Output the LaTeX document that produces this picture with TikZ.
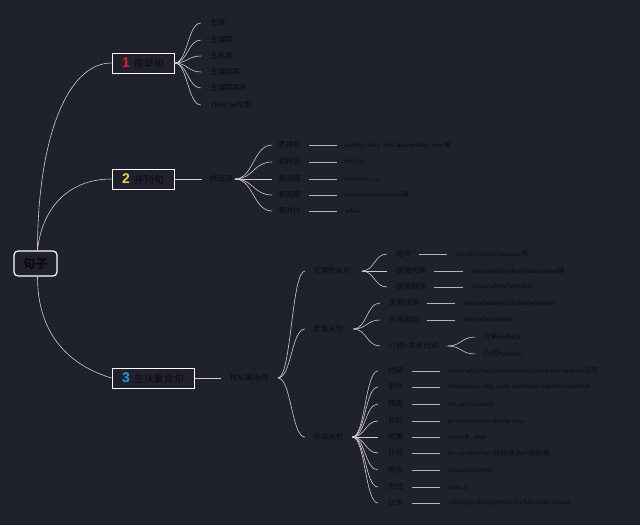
\documentclass[tikz,border=0pt]{standalone}
\usepackage{fontspec}
\setmainfont{Liberation Serif}
\newfontfamily\zh{Noto Sans CJK SC}
\newfontfamily\numf{Liberation Sans}
\usetikzlibrary{calc}
\definecolor{bg}{RGB}{31,34,44}
\definecolor{txt}{RGB}{10,11,14}
\definecolor{ln}{RGB}{205,205,208}
\definecolor{hln}{RGB}{178,181,188}
\definecolor{redone}{RGB}{228,30,55}
\definecolor{yeltwo}{RGB}{240,214,60}
\definecolor{bluthree}{RGB}{30,155,225}
\newcommand\fanline[2]{\draw[conn] let \p1=(#1), \p2=(#2) in (\p1) .. controls ({(\x1+\x2)/2},\y1) and ({(\x1+\x2)/2},\y2) .. (\p2);}
\begin{document}
\begin{tikzpicture}[x=1pt,y=-1pt,
 conn/.style={draw=ln, line width=0.6pt},
 hline/.style={draw=hln, line width=0.9pt},
 box/.style={draw=white, line width=1pt, minimum height=20pt, inner sep=0pt, text=txt, font=\zh\fontsize{10}{12}\selectfont},
 rootbox/.style={draw=white, line width=1.2pt, rounded corners=4pt, minimum width=43pt, minimum height=25pt, inner sep=0pt, text=txt, font=\zh\bfseries\fontsize{12.5}{14}\selectfont},
 zhleaf/.style={anchor=west, inner sep=0pt, text=txt, font=\zh\fontsize{7.5}{8}\selectfont},
 exleaf/.style={anchor=west, inner sep=0pt, text=txt, font=\fontsize{7}{8}\selectfont},
]
\fill[bg] (0,0) rectangle (640,525);
\useasboundingbox (0,0) rectangle (640,525);

% root and main boxes
\node[rootbox] (s) at (35.5,263.5) {句子};
\node[box, minimum width=62pt] (b1) at (143,63) {{\numf\bfseries\fontsize{14}{14}\selectfont\color{redone}1}\hspace{4pt}简单句};
\node[box, minimum width=62pt] (b2) at (143,179) {{\numf\bfseries\fontsize{14}{14}\selectfont\color{yeltwo}2}\hspace{4pt}并列句};
\node[box, minimum width=82pt] (b3) at (153,378) {{\numf\bfseries\fontsize{14}{14}\selectfont\color{bluthree}3}\hspace{4pt}主从复合句};

\draw[conn] ([xshift=2pt]s.north) .. controls +(0,-110) and +(-45,0) .. (b1.west);
\draw[conn] ([xshift=2pt]s.north) .. controls +(4,-40) and +(-45,0) .. (b2.west);
\draw[conn] ([xshift=2pt]s.south) .. controls +(0,60) and +(-40,-12) .. (b3.west);

% branch 1
\node[zhleaf] (a1) at (210,23) {主谓};
\node[zhleaf] (a2) at (210,40) {主谓宾};
\node[zhleaf] (a3) at (210,56) {主系表};
\node[zhleaf] (a4) at (210,72) {主谓双宾};
\node[zhleaf] (a5) at (210,88) {主谓宾宾补};
\node[zhleaf] (a6) at (210,105) {{\rmfamily There be}句型};
\foreach \q in {a1,a2,a3,a4,a5,a6}{\fanline{b1.east}{[xshift=-9pt]\q.west}}

% branch 2
\node[zhleaf] (c0) at (210,179) {找连词};
\draw[conn] (b2.east) -- ([xshift=-8pt]c0.west);
\node[zhleaf] (c1) at (278,145) {表并列};
\node[zhleaf] (c2) at (278,162) {表转折};
\node[zhleaf] (c3) at (278,179) {表选择};
\node[zhleaf] (c4) at (278,195) {表因果};
\node[zhleaf] (c5) at (278,211) {表对比};
\foreach \q in {c1,c2,c3,c4,c5}{\fanline{[xshift=2pt]c0.east}{[xshift=-6pt]\q.west}}
\node[exleaf] (e1) at (345,145) {and/not only...but also/neither...nor {\zh 等}};
\node[exleaf] (e2) at (345,162) {but/yet};
\node[exleaf] (e3) at (345,179) {or/either...or};
\node[exleaf] (e4) at (345,195) {for/so/thus/therefore{\zh 等}};
\node[exleaf] (e5) at (345,211) {while};
\foreach \i in {1,...,5}{\draw[hline] ([xshift=8pt]c\i.east) -- ([xshift=-8pt]e\i.west);}

% branch 3
\node[zhleaf] (d0) at (230,378) {找从属连词};
\draw[conn] (b3.east) -- ([xshift=-9pt]d0.west);
\node[zhleaf] (n1) at (313,271) {名词性从句};
\node[zhleaf] (n2) at (313,329) {定语从句};
\node[zhleaf] (n3) at (313,437) {状语从句};
\foreach \q in {n1,n2,n3}{\fanline{[xshift=10pt]d0.east}{[xshift=-8pt]\q.west}}

% noun clauses
\node[zhleaf] (m1) at (396,254) {连词};
\node[zhleaf] (m2) at (396,271) {连接代词};
\node[zhleaf] (m3) at (396,287) {连接副词};
\foreach \q in {m1,m2,m3}{\fanline{[xshift=11pt]n1.east}{[xshift=-9pt]\q.west}}
\node[exleaf] (f1) at (456,254) {that/if/whether/because{\zh 等}};
\node[exleaf] (f2) at (472,271) {what/which/who/whom/whose{\zh 等}};
\node[exleaf] (f3) at (472,287) {when/where/why/how};
\foreach \i in {1,2,3}{\draw[hline] ([xshift=8pt]m\i.east) -- ([xshift=-9pt]f\i.west);}

% attributive clauses
\node[zhleaf] (r1) at (389,303) {关系代词};
\node[zhleaf] (r2) at (389,320) {关系副词};
\node[zhleaf] (r3) at (389,346) {介词+关系代词};
\foreach \q in {r1,r2,r3}{\fanline{[xshift=10pt]n2.east}{[xshift=-9pt]\q.west}}
\node[exleaf] (g1) at (464,303) {who/whom/which/that/whose/as};
\node[exleaf] (g2) at (464,320) {why/when/where};
\foreach \i in {1,2}{\draw[hline] ([xshift=8pt]r\i.east) -- ([xshift=-9pt]g\i.west);}
\node[zhleaf] (p1) at (483,337) {介词+{\rmfamily which}};
\node[zhleaf] (p2) at (483,354) {介词+{\rmfamily whom}};
\foreach \q in {p1,p2}{\fanline{[xshift=9pt]r3.east}{[xshift=-8pt]\q.west}}

% adverbial clauses
\foreach \q/\yy/\lbl in {t1/371/时间,t2/387/条件,t3/404/原因,t4/421/目的,t5/437/结果,t6/453/比较,t7/470/地点,t8/487/方式,t9/503/让步}{
  \node[zhleaf] (\q) at (388,\yy) {\lbl};
  \fanline{[xshift=9pt]n3.east}{[xshift=-10pt]\q.west}
}
\node[exleaf] (h1) at (448,371) {when/while/as/before/after/till/since/the moment{\zh 引导}};
\node[exleaf] (h2) at (448,387) {if/unless/as long as/on condition that/provided that};
\node[exleaf] (h3) at (448,404) {because/as/since};
\node[exleaf] (h4) at (448,421) {so that/in order that/in case};
\node[exleaf] (h5) at (448,437) {so/such...that};
\node[exleaf] (h6) at (448,453) {as...as/than/the+{\zh 比较级},the+{\zh 比较级}};
\node[exleaf] (h7) at (448,470) {where/wherever};
\node[exleaf] (h8) at (448,487) {as/as if};
\node[exleaf] (h9) at (448,503) {Although/though/even if/while/even though};
\foreach \i in {1,...,9}{\draw[hline] ([xshift=9pt]t\i.east) -- ([xshift=-8pt]h\i.west);}
\end{tikzpicture}
\end{document}
